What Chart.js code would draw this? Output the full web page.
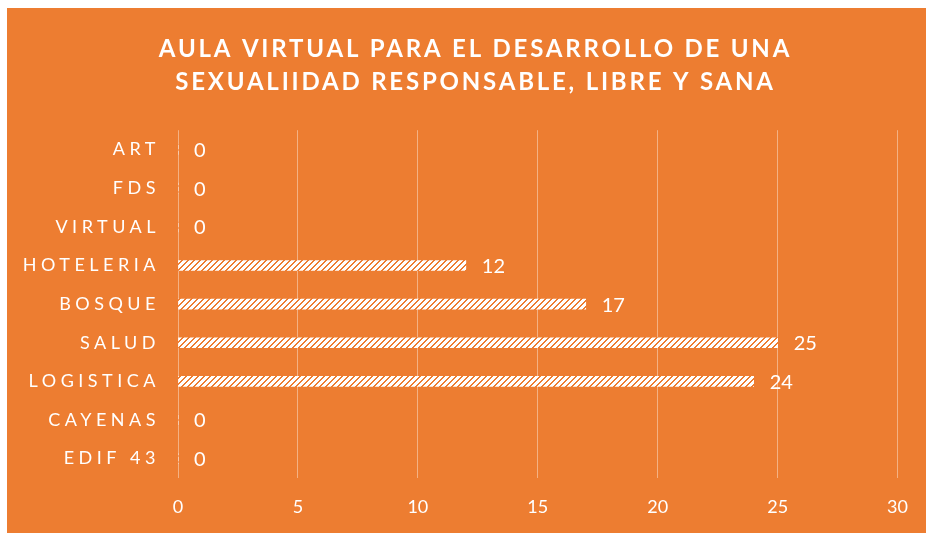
<!DOCTYPE html>
<html>
<head>
<meta charset="utf-8">
<script src="https://cdn.jsdelivr.net/npm/chart.js@4/dist/chart.umd.min.js"></script>
<style>
  html, body { margin: 0; padding: 0; background: #ffffff; }
  #wrap { position: absolute; left: 7px; top: 8px; width: 919px; height: 525px; }
</style>
</head>
<body>
<div id="wrap"><canvas id="c" width="919" height="525"></canvas></div>
<script>
const titleLines = ['AULA VIRTUAL PARA EL DESARROLLO DE UNA', 'SEXUALIIDAD RESPONSABLE, LIBRE Y SANA'];
const categories = ['ART', 'FDS', 'VIRTUAL', 'HOTELERIA', 'BOSQUE', 'SALUD', 'LOGISTICA', 'CAYENAS', 'EDIF 43'];
const values = [0, 0, 0, 12, 17, 25, 24, 0, 0];
const xMax = 30;
const xStep = 5;

const ORANGE = '#ED7D31';
const FONT = 'Lato, "Open Sans", sans-serif';

function makePattern() {
  const c = document.createElement('canvas');
  c.width = 6; c.height = 6;
  const x = c.getContext('2d');
  x.fillStyle = '#ffffff';
  x.fillRect(0, 0, 6, 6);
  x.fillStyle = ORANGE;
  for (let i = 0; i < 6; i++)
    for (let j = 0; j < 6; j++)
      if (((i + j) % 6) < 2) x.fillRect(i, j, 1, 1);
  return x.createPattern(c, 'repeat');
}

const bgPlugin = {
  id: 'bg',
  beforeDraw(chart) {
    const ctx = chart.ctx;
    ctx.save();
    ctx.fillStyle = ORANGE;
    ctx.fillRect(0, 0, chart.width, chart.height);
    ctx.restore();
  }
};

const spacingPlugin = {
  id: 'spacing',
  afterLayout(chart) {
    const tb = chart.titleBlock;
    if (tb && !tb._lsWrapped) {
      const o = tb.draw;
      tb.draw = function (...a) {
        const c = this.ctx; c.save(); c.translate(23, 0); c.letterSpacing = '2.8px'; o.apply(this, a); c.restore();
      };
      tb._lsWrapped = true;
    }
    const y = chart.scales.y;
    if (y && !y._lsWrapped) {
      const o = y.drawLabels;
      y.drawLabels = function (...a) {
        const c = this.ctx; c.save(); c.letterSpacing = '4.5px'; o.apply(this, a); c.restore();
      };
      y._lsWrapped = true;
    }
  }
};

const labelPlugin = {
  id: 'valueLabels',
  afterDatasetsDraw(chart) {
    const ctx = chart.ctx;
    const meta = chart.getDatasetMeta(0);
    ctx.save();
    ctx.fillStyle = '#ffffff';
    ctx.font = '20px ' + FONT;
    ctx.textAlign = 'left';
    ctx.textBaseline = 'middle';
    meta.data.forEach((el, i) => {
      ctx.fillText(String(values[i]), el.x + 16, el.y + 1);
    });
    ctx.restore();
  }
};

new Chart(document.getElementById('c'), {
  type: 'bar',
  data: {
    labels: categories,
    datasets: [{
      data: values,
      backgroundColor: makePattern(),
      borderWidth: 0,
      barThickness: 10
    }]
  },
  options: {
    indexAxis: 'y',
    responsive: false,
    animation: false,
    layout: { padding: { left: 0, right: 28, top: 0, bottom: 0 } },
    plugins: {
      legend: { display: false },
      tooltip: { enabled: false },
      title: {
        display: true,
        text: titleLines,
        color: '#ffffff',
        font: { family: FONT, size: 24, weight: 'bold', lineHeight: 1.4 },
        padding: { top: 24, bottom: 31 }
      }
    },
    scales: {
      x: {
        min: 0, max: xMax,
        ticks: { stepSize: xStep, color: '#ffffff', font: { family: FONT, size: 18 }, padding: 18 },
        grid: { color: 'rgba(255,255,255,0.4)', lineWidth: 1, drawTicks: false },
        border: { display: false },
        afterFit(s) { s.height = 55; }
      },
      y: {
        ticks: { color: '#ffffff', font: { family: FONT, size: 18 }, padding: 18, autoSkip: false },
        grid: { display: false, drawTicks: false },
        border: { display: false },
        afterFit(s) { s.width = 171; }
      }
    }
  },
  plugins: [bgPlugin, spacingPlugin, labelPlugin]
});
</script>
</body>
</html>
